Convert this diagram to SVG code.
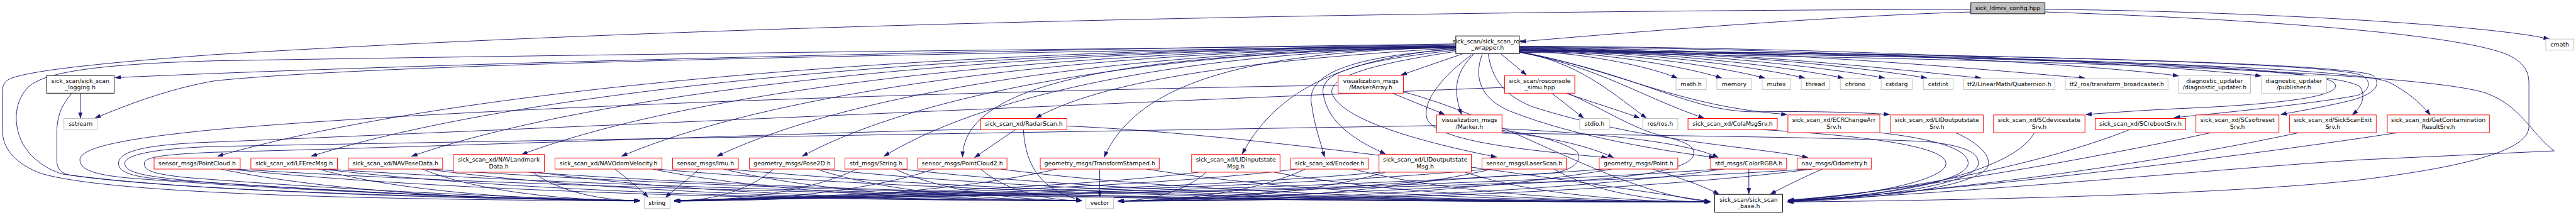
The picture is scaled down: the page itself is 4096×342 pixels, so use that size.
<svg xmlns="http://www.w3.org/2000/svg" width="4096" height="342" viewBox="0 0 4096 342">
<defs>
<marker id="ah" viewBox="0 0 10 7" refX="10" refY="3.5" markerWidth="13" markerHeight="9.3" markerUnits="userSpaceOnUse" orient="auto"><path d="M0,0L10,3.5L0,7z" fill="#191970" stroke="#191970" stroke-width="0.5"/></marker>
<style>
.e path{fill:none;stroke:#191970;stroke-width:1.33;marker-end:url(#ah)}
.n rect{fill:#fff;stroke-width:1.33}
.r rect{stroke:#ff0000}
.g rect{stroke:#bfbfbf}
.k rect{stroke:#000}
text{font-family:"DejaVu Sans","Liberation Sans",sans-serif;font-size:13.33px;text-anchor:middle;fill:#000}
</style>
</defs>
<rect width="4096" height="342" fill="#fff"/>
<g transform="scale(0.70596)">
<g id="connectors" class="e">
<path d="M4439,27 C4150,35 3700,70 3424,94"/>
<path d="M4606,21 C5050,25 5600,55 5742,88"/>
<path d="M4439,21 C3000,25 1500,60 484,123 C250,140 40,160 15,182 C5,192 5,200 5,215 L5,290 C5,340 40,370 90,390 C250,440 900,450 1441,453"/>
<path d="M4606,27 C5000,40 5500,70 5640,120 C5690,140 5696,165 5696,190 L5696,285 C5696,330 5600,370 5318,405 C5000,440 4400,452 4025,455"/>
<path d="M3279,99 C2000,115 800,150 259,175"/>
<path d="M3279,102 C2200,120 900,140 484,182 C380,200 290,235 214,266"/>
<path d="M181,210 L181,266"/>
<path d="M162,210 C140,235 128,260 128,300 L128,360 C128,380 135,390 160,395 C400,430 1000,445 1441,452"/>
<path d="M3279,101 C2500,110 1500,120 484,137 C200,145 90,165 60,200 C35,230 30,270 45,310 C60,350 100,380 140,392 C400,430 1000,448 1441,452"/>
<path d="M3014,192 C2500,200 1200,230 484,292 C300,310 180,330 180,360 C180,385 220,395 300,402 C700,432 1100,447 1441,452"/>
<path d="M3389,197 C2900,215 1200,290 484,320 C330,325 267,340 267,368 C267,392 310,402 420,408 C900,440 1200,450 1441,452"/>
<path d="M3236,283 C2500,295 1000,320 484,330 C340,335 281,350 281,368 C281,392 340,400 484,412 C900,440 1200,450 1441,452"/>
<path d="M2209,291 C1800,300 1000,330 484,343 C360,348 325,355 325,368 C325,385 345,392 420,400 C800,430 1200,447 1441,452"/>
<path d="M3279,104 C2163,107 1048,191 490,352"/>
<path d="M3279,105 C2248,108 1217,191 701,352"/>
<path d="M3279,105 C2338,108 1397,191 927,352"/>
<path d="M3279,106 C2437,109 1596,191 1175,348"/>
<path d="M3279,106 C2527,109 1776,192 1400,352"/>
<path d="M3279,107 C2613,110 1948,193 1615,352"/>
<path d="M3279,107 C2690,110 2101,193 1807,352"/>
<path d="M3279,108 C2764,111 2249,194 1991,352"/>
<path d="M3279,106 C2600,120 2170,170 2168,354"/>
<path d="M2287,292 L2195,355"/>
<path d="M3279,108 C2900,130 2500,170 2333,266"/>
<path d="M3279,107 C2800,115 2560,190 2487,354"/>
<path d="M3279,109 C3050,130 2880,190 2798,347"/>
<path d="M3279,111 C3000,130 2940,180 2955,240 C2962,290 2975,320 2983,354"/>
<path d="M3279,113 C3030,140 2975,170 2980,210 C2990,280 3060,320 3121,347"/>
<path d="M3279,116 C3050,150 2995,180 3000,210 C3020,270 3200,320 3371,354"/>
<path d="M3295,121 L3156,169"/>
<path d="M3321,121 C3280,160 3270,200 3292,258"/>
<path d="M3136,210 L3254,258"/>
<path d="M3318,121 C3250,170 3200,230 3215,270 C3240,320 3450,340 3620,355"/>
<path d="M3339,121 C3320,170 3330,220 3400,250 C3550,310 3750,340 3862,355"/>
<path d="M3352,121 C3360,180 3390,215 3450,240 C3700,320 3950,330 4072,355"/>
<path d="M3383,297 C3500,310 3580,330 3634,355"/>
<path d="M3383,290 C3600,300 3800,320 3870,355"/>
<path d="M3380,121 L3438,169"/>
<path d="M3495,210 L3567,266"/>
<path d="M3527,210 C3600,235 3650,250 3693,266"/>
<path d="M3422,117 C3550,140 3620,200 3708,266"/>
<path d="M3422,118 C3600,150 3700,220 3838,266"/>
<path d="M3422,116 C3650,160 3780,240 4025,258"/>
<path d="M3422,117 C3700,170 3800,250 3950,252 C4100,250 4200,254 4256,258"/>
<path d="M3422,112 C4200,120 5200,140 5255,185 C5290,215 5150,235 4900,245 C4800,250 4740,255 4698,258"/>
<path d="M3422,113 C4400,120 5250,140 5320,170 C5345,185 5335,205 5310,215 C5200,235 5000,255 4897,265"/>
<path d="M3422,114 C4400,120 5280,140 5345,170 C5365,190 5350,210 5300,225 C5240,240 5180,250 5137,258"/>
<path d="M3422,115 C4500,125 5250,150 5315,195 C5330,215 5320,240 5298,259"/>
<path d="M3422,116 C4500,125 5300,150 5380,185 C5420,205 5450,230 5474,259"/>
<path d="M3422,118 C4500,130 5450,160 5600,210 C5680,240 5700,300 5753,340 L5318,360 C5000,380 4500,430 4027,453"/>
<path d="M3422,114 C3583,119 3726,154 3778,176"/>
<path d="M3422,113 C3627,118 3810,154 3878,176"/>
<path d="M3422,112 C3671,117 3892,154 3975,176"/>
<path d="M3422,111 C3711,116 3969,153 4065,176"/>
<path d="M3422,110 C3750,115 4042,153 4152,176"/>
<path d="M3422,109 C3792,114 4122,153 4245,176"/>
<path d="M3422,108 C3835,113 4202,152 4340,176"/>
<path d="M3422,107 C3890,112 4306,160 4462,176"/>
<path d="M3422,106 C3995,111 4505,160 4696,176"/>
<path d="M3422,105 C4200,110 4750,150 4907,171"/>
<path d="M3422,104 C4300,108 4900,150 5093,171"/>
<path d="M3966,292 C4100,300 4383,320 4383,368 C4383,405 4220,440 4027,452"/>
<path d="M4234,299 C4330,310 4433,330 4433,368 C4433,408 4250,442 4027,453"/>
<path d="M3383,300 C3700,305 4200,310 4350,320 C4430,330 4456,345 4456,368 C4456,408 4280,443 4027,454"/>
<path d="M4405,299 C4440,315 4479,340 4479,368 C4479,410 4300,445 4027,455"/>
<path d="M4582,299 C4540,380 4300,440 4027,454"/>
<path d="M4797,292 C4600,370 4300,430 4027,452"/>
<path d="M4980,299 C4700,360 4300,430 4027,451"/>
<path d="M5178,299 C4800,380 4300,440 4027,452"/>
<path d="M5400,299 C5000,360 4400,430 4027,453"/>
<path d="M3161,207 C3400,270 3650,440 3852,454"/>
<path d="M3531,210 C3620,250 3680,290 3740,305 C3800,320 3815,330 3815,345 C3815,380 3700,400 3500,410 C3100,430 2700,450 2519,453"/>
<path d="M3383,294 C3450,300 3520,320 3550,340 C3565,355 3555,380 3500,390 C3000,420 2700,450 2519,453"/>
<path d="M2305,292 C2310,380 2350,430 2436,452"/>
<path d="M2403,284 C2800,300 3500,400 3852,454"/>
<path d="M497,381 C733,431 1111,452 1441,452"/>
<path d="M515,381 C995,431 1764,452 2436,452"/>
<path d="M530,381 C1360,433 2689,455 3852,455"/>
<path d="M717,381 C898,431 1188,452 1441,452"/>
<path d="M725,381 C1153,431 1837,452 2436,452"/>
<path d="M735,381 C1514,433 2761,455 3852,455"/>
<path d="M951,381 C1073,431 1270,452 1441,452"/>
<path d="M960,381 C1329,431 1919,452 2436,452"/>
<path d="M970,381 C1690,433 2843,455 3852,455"/>
<path d="M1200,388 C1260,433 1357,452 1441,452"/>
<path d="M1210,388 C1516,433 2007,452 2436,452"/>
<path d="M1190,388 C1855,435 2920,455 3852,455"/>
<path d="M1385,381 C1410,400 1440,425 1460,444"/>
<path d="M1470,381 C1711,431 2098,452 2436,452"/>
<path d="M1480,381 C2073,433 3022,455 3852,455"/>
<path d="M1574,381 C1550,405 1520,425 1499,445"/>
<path d="M1630,381 C1831,431 2154,452 2436,452"/>
<path d="M1640,381 C2193,433 3078,455 3852,455"/>
<path d="M1742,381 C1686,431 1597,453 1519,453"/>
<path d="M1839,381 C1988,431 2227,452 2436,452"/>
<path d="M1850,381 C2350,433 3151,455 3852,455"/>
<path d="M1930,381 C1827,431 1663,453 1519,453"/>
<path d="M2016,381 C2121,431 2289,452 2436,452"/>
<path d="M2030,381 C2485,433 3214,455 3852,455"/>
<path d="M2104,381 C1958,431 1724,453 1519,453"/>
<path d="M2209,381 C2266,431 2357,452 2436,452"/>
<path d="M2254,381 C2653,433 3293,455 3852,455"/>
<path d="M2380,381 C2165,431 1820,453 1519,453"/>
<path d="M2477,381 L2477,444"/>
<path d="M2583,381 C2900,433 3408,455 3852,455"/>
<path d="M2700,388 C2405,425 1873,440 1519,452"/>
<path d="M2717,388 C2667,433 2588,453 2518,453"/>
<path d="M2870,388 C3115,435 3508,455 3852,455"/>
<path d="M2920,381 C2570,425 1939,440 1519,452"/>
<path d="M2940,381 C2835,431 2666,453 2518,453"/>
<path d="M3048,381 C3249,433 3571,455 3852,455"/>
<path d="M3110,388 C2712,425 1996,440 1519,452"/>
<path d="M3120,388 C2970,433 2729,453 2518,453"/>
<path d="M3300,388 C3438,435 3659,455 3852,455"/>
<path d="M3350,381 C2892,425 2068,440 1519,452"/>
<path d="M3360,381 C3150,431 2813,453 2518,453"/>
<path d="M3500,381 C3588,433 3729,455 3852,455"/>
<path d="M3610,381 C3087,425 2146,440 1519,452"/>
<path d="M3630,381 C3352,431 2907,453 2518,453"/>
<path d="M3723,381 C3780,400 3840,420 3872,438"/>
<path d="M3939,381 L3939,437"/>
<path d="M3882,381 C3541,431 2995,453 2518,453"/>
<path d="M3870,381 C3282,425 2224,440 1519,452"/>
<path d="M4105,381 C4060,400 4010,425 3987,438"/>
<path d="M4082,381 C3691,431 3065,453 2518,453"/>
<path d="M4070,381 C3432,425 2284,440 1519,452"/>
</g>
<g id="n_root" class="n k"><rect x="4439" y="6" width="167" height="25" style="fill:#bfbfbf"/><text x="4522.5" y="22.5">sick_ldmrs_config.hpp</text></g>
<g id="n_wrapper" class="n k"><rect x="3279" y="81" width="143" height="40"/><text x="3350.5" y="97.5">sick_scan/sick_scan_ros</text><text x="3350.5" y="112.5">_wrapper.h</text></g>
<g id="n_cmath" class="n g"><rect x="5734" y="88" width="63" height="25"/><text x="5765.5" y="104.5">cmath</text></g>
<g id="n_logging" class="n k"><rect x="105" y="170" width="152" height="40"/><text x="181" y="186.5">sick_scan/sick_scan</text><text x="181" y="201.5">_logging.h</text></g>
<g id="n_sstream" class="n g"><rect x="144" y="267" width="75" height="25"/><text x="181.5" y="283.5">sstream</text></g>
<g id="n_markerarray" class="n r"><rect x="3014" y="170" width="147" height="40"/><text x="3087.5" y="186.5">visualization_msgs</text><text x="3087.5" y="201.5">/MarkerArray.h</text></g>
<g id="n_rosconsole" class="n r"><rect x="3389" y="170" width="158" height="40"/><text x="3468" y="186.5">sick_scan/rosconsole</text><text x="3468" y="201.5">_simu.hpp</text></g>
<g id="n_math" class="n g"><rect x="3775" y="177" width="68" height="25"/><text x="3809" y="193.5">math.h</text></g>
<g id="n_memory" class="n g"><rect x="3867" y="177" width="78" height="25"/><text x="3906" y="193.5">memory</text></g>
<g id="n_mutex" class="n g"><rect x="3969" y="177" width="64" height="25"/><text x="4001" y="193.5">mutex</text></g>
<g id="n_thread" class="n g"><rect x="4057" y="177" width="64" height="25"/><text x="4089" y="193.5">thread</text></g>
<g id="n_chrono" class="n g"><rect x="4145" y="177" width="67" height="25"/><text x="4178.5" y="193.5">chrono</text></g>
<g id="n_cstdarg" class="n g"><rect x="4237" y="177" width="70" height="25"/><text x="4272" y="193.5">cstdarg</text></g>
<g id="n_cstdint" class="n g"><rect x="4332" y="177" width="67" height="25"/><text x="4365.5" y="193.5">cstdint</text></g>
<g id="n_quaternion" class="n g"><rect x="4423" y="177" width="205" height="25"/><text x="4525.5" y="193.5">tf2/LinearMath/Quaternion.h</text></g>
<g id="n_tfbroadcaster" class="n g"><rect x="4652" y="177" width="231" height="25"/><text x="4767.5" y="193.5">tf2_ros/transform_broadcaster.h</text></g>
<g id="n_diagupdater" class="n g"><rect x="4907" y="170" width="162" height="40"/><text x="4988" y="186.5">diagnostic_updater</text><text x="4988" y="201.5">/diagnostic_updater.h</text></g>
<g id="n_diagpublisher" class="n g"><rect x="5093" y="170" width="147" height="40"/><text x="5166.5" y="186.5">diagnostic_updater</text><text x="5166.5" y="201.5">/publisher.h</text></g>
<g id="n_radarscan" class="n r"><rect x="2209" y="267" width="194" height="25"/><text x="2306" y="283.5">sick_scan_xd/RadarScan.h</text></g>
<g id="n_marker" class="n r"><rect x="3236" y="259" width="147" height="40"/><text x="3309.5" y="275.5">visualization_msgs</text><text x="3309.5" y="290.5">/Marker.h</text></g>
<g id="n_stdio" class="n g"><rect x="3558" y="267" width="67" height="25"/><text x="3591.5" y="283.5">stdio.h</text></g>
<g id="n_ros" class="n g"><rect x="3700" y="267" width="79" height="25"/><text x="3739.5" y="283.5">ros/ros.h</text></g>
<g id="n_colamsgsrv" class="n r"><rect x="3802" y="267" width="201" height="25"/><text x="3902.5" y="283.5">sick_scan_xd/ColaMsgSrv.h</text></g>
<g id="n_ecrchangearr" class="n r"><rect x="4027" y="259" width="207" height="40"/><text x="4130.5" y="275.5">sick_scan_xd/ECRChangeArr</text><text x="4130.5" y="290.5">Srv.h</text></g>
<g id="n_lidoutputsrv" class="n r"><rect x="4258" y="259" width="209" height="40"/><text x="4362.5" y="275.5">sick_scan_xd/LIDoutputstate</text><text x="4362.5" y="290.5">Srv.h</text></g>
<g id="n_scdevicestate" class="n r"><rect x="4490" y="259" width="206" height="40"/><text x="4593" y="275.5">sick_scan_xd/SCdevicestate</text><text x="4593" y="290.5">Srv.h</text></g>
<g id="n_screboot" class="n r"><rect x="4719" y="267" width="204" height="25"/><text x="4821" y="283.5">sick_scan_xd/SCrebootSrv.h</text></g>
<g id="n_scsoftreset" class="n r"><rect x="4946" y="259" width="187" height="40"/><text x="5039.5" y="275.5">sick_scan_xd/SCsoftreset</text><text x="5039.5" y="290.5">Srv.h</text></g>
<g id="n_sickscanexit" class="n r"><rect x="5157" y="259" width="195" height="40"/><text x="5254.5" y="275.5">sick_scan_xd/SickScanExit</text><text x="5254.5" y="290.5">Srv.h</text></g>
<g id="n_getcontamination" class="n r"><rect x="5377" y="259" width="230" height="40"/><text x="5492" y="275.5">sick_scan_xd/GetContamination</text><text x="5492" y="290.5">ResultSrv.h</text></g>
<g id="n_pointcloud" class="n r"><rect x="347" y="356" width="194" height="25"/><text x="444" y="372.5">sensor_msgs/PointCloud.h</text></g>
<g id="n_lferecmsg" class="n r"><rect x="565" y="356" width="195" height="25"/><text x="662.5" y="372.5">sick_scan_xd/LFErecMsg.h</text></g>
<g id="n_navposedata" class="n r"><rect x="784" y="356" width="213" height="25"/><text x="890.5" y="372.5">sick_scan_xd/NAVPoseData.h</text></g>
<g id="n_navlandmark" class="n r"><rect x="1021" y="348" width="205" height="40"/><text x="1123.5" y="364.5">sick_scan_xd/NAVLandmark</text><text x="1123.5" y="379.5">Data.h</text></g>
<g id="n_navodomvel" class="n r"><rect x="1250" y="356" width="241" height="25"/><text x="1370.5" y="372.5">sick_scan_xd/NAVOdomVelocity.h</text></g>
<g id="n_imu" class="n r"><rect x="1515" y="356" width="148" height="25"/><text x="1589" y="372.5">sensor_msgs/Imu.h</text></g>
<g id="n_pose2d" class="n r"><rect x="1688" y="356" width="192" height="25"/><text x="1784" y="372.5">geometry_msgs/Pose2D.h</text></g>
<g id="n_stringmsg" class="n r"><rect x="1903" y="356" width="140" height="25"/><text x="1973" y="372.5">std_msgs/String.h</text></g>
<g id="n_pointcloud2" class="n r"><rect x="2067" y="356" width="201" height="25"/><text x="2167.5" y="372.5">sensor_msgs/PointCloud2.h</text></g>
<g id="n_transformstamped" class="n r"><rect x="2343" y="356" width="268" height="25"/><text x="2477" y="372.5">geometry_msgs/TransformStamped.h</text></g>
<g id="n_lidinputmsg" class="n r"><rect x="2684" y="348" width="199" height="40"/><text x="2783.5" y="364.5">sick_scan_xd/LIDinputstate</text><text x="2783.5" y="379.5">Msg.h</text></g>
<g id="n_encoder" class="n r"><rect x="2907" y="356" width="175" height="25"/><text x="2994.5" y="372.5">sick_scan_xd/Encoder.h</text></g>
<g id="n_lidoutputmsg" class="n r"><rect x="3106" y="348" width="208" height="40"/><text x="3210" y="364.5">sick_scan_xd/LIDoutputstate</text><text x="3210" y="379.5">Msg.h</text></g>
<g id="n_laserscan" class="n r"><rect x="3338" y="356" width="190" height="25"/><text x="3433" y="372.5">sensor_msgs/LaserScan.h</text></g>
<g id="n_point" class="n r"><rect x="3602" y="356" width="177" height="25"/><text x="3690.5" y="372.5">geometry_msgs/Point.h</text></g>
<g id="n_colorrgba" class="n r"><rect x="3853" y="356" width="171" height="25"/><text x="3938.5" y="372.5">std_msgs/ColorRGBA.h</text></g>
<g id="n_odometry" class="n r"><rect x="4048" y="356" width="167" height="25"/><text x="4131.5" y="372.5">nav_msgs/Odometry.h</text></g>
<g id="n_string" class="n g"><rect x="1451" y="445" width="58" height="25"/><text x="1480" y="461.5">string</text></g>
<g id="n_vector" class="n g"><rect x="2446" y="445" width="62" height="25"/><text x="2477" y="461.5">vector</text></g>
<g id="n_base" class="n k"><rect x="3862" y="438" width="153" height="40"/><text x="3938.5" y="454.5">sick_scan/sick_scan</text><text x="3938.5" y="469.5">_base.h</text></g>
</g>
</svg>
